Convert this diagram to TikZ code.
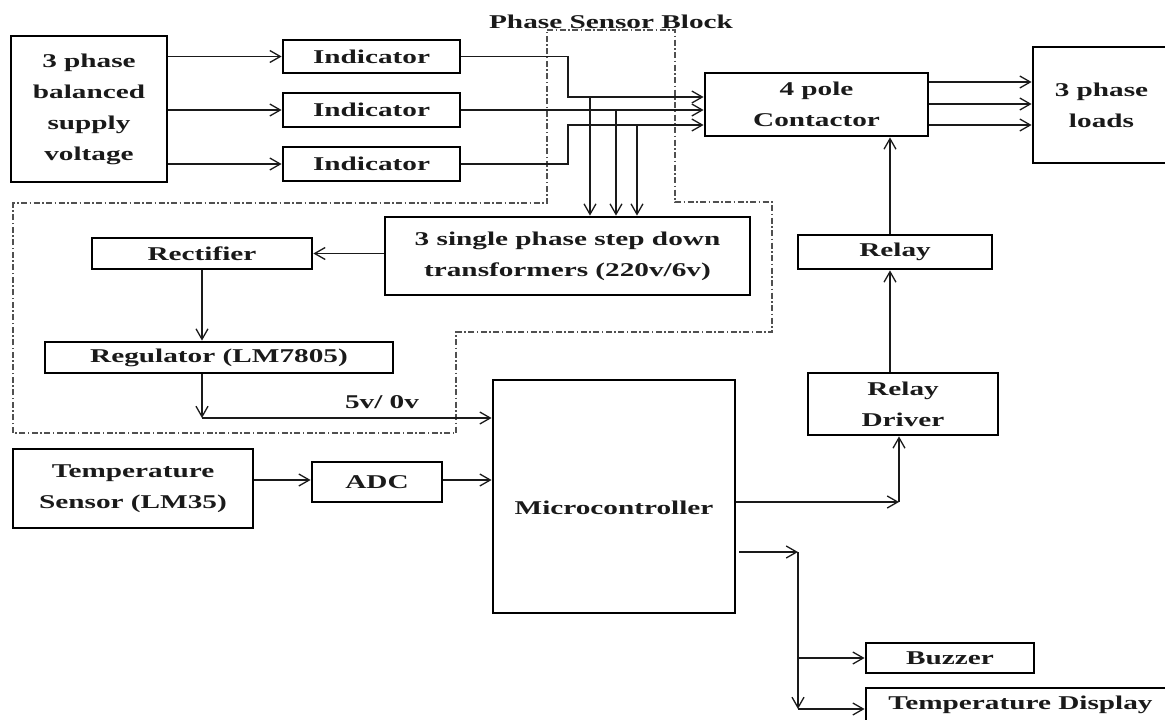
\documentclass[tikz,border=0pt]{standalone}
\usepackage{fontspec}
\setmainfont{Liberation Serif}
\usetikzlibrary{arrows.meta}
\newcommand\sx[1]{\scalebox{1.5}[1]{#1}}
\newcommand\blk[6]{\node[blk, minimum width={(#4)-(#2)}, minimum height={(#5)-(#3)}] (#1) at ({((#2)+(#4))/2},{((#3)+(#5))/2}) {#6};}
\definecolor{ink}{HTML}{1A1A1A}
\definecolor{dd}{HTML}{505050}
\begin{document}
\begin{tikzpicture}[x=1pt,y=-1pt,
  blk/.style={draw=black, line width=2.8pt, inner sep=0pt, align=center, text=ink,
    font=\fontsize{19.5}{31}\selectfont\bfseries},
  txt/.style={inner sep=0pt, text=ink, font=\fontsize{19.5}{31}\selectfont\bfseries},
  arr/.style={draw=ink, line width=1.4pt, -{Straight Barb[length=10.5pt,width=12pt,line width=1.3pt]}},
  psb/.style={draw=dd, line width=1.8pt, dash pattern=on 6pt off 2.5pt on 1.5pt off 2.5pt}]
\useasboundingbox (0,0) rectangle (1165,720);
\clip (0,0) rectangle (1165,720);
\fill[white] (0,0) rectangle (1165,720);

% phase sensor block outline
\draw[psb] (547,30) -- (675,30) -- (675,202) -- (772,202) -- (772,332) -- (456,332) -- (456,433) -- (13,433) -- (13,203) -- (547,203) -- cycle;
\node[txt] (psbl) at (611,22) {\sx{Phase Sensor Block}};

% blocks
\blk{sup}{11}{36}{167}{182}{\sx{3 phase}\\\sx{balanced}\\\sx{supply}\\\sx{voltage}}
\blk{ind1}{283}{40}{460}{73}{\sx{Indicator}}
\blk{ind2}{283}{93}{460}{127}{\sx{Indicator}}
\blk{ind3}{283}{147}{460}{181}{\sx{Indicator}}
\blk{ctr}{705}{73}{928}{136}{\sx{4 pole}\\\sx{Contactor}}
\blk{lds}{1033}{47}{1170}{163}{\sx{3 phase}\\\sx{loads}}
\blk{xfm}{385}{217}{750}{295}{\sx{3 single phase step down}\\\sx{transformers (220v/6v)}}
\blk{rec}{92}{238}{312}{269}{\sx{Rectifier}}
\blk{reg}{45}{342}{393}{373}{\sx{Regulator (LM7805)}}
\blk{mcu}{493}{380}{735}{613}{}
\node[txt] (mcut) at (614,508) {\sx{Microcontroller}};
\blk{tmp}{13}{449}{253}{528}{\sx{Temperature}\\\sx{Sensor (LM35)}}
\blk{adc}{312}{462}{442}{502}{\sx{ADC}}
\blk{rly}{798}{235}{992}{269}{\sx{Relay}}
\blk{drv}{808}{373}{998}{435}{\sx{Relay}\\\sx{Driver}}
\blk{buz}{866}{643}{1034}{673}{\sx{Buzzer}}
\blk{dsp}{866}{688}{1175}{722}{\sx{Temperature Display}}

% supply -> indicators
\draw[arr] (sup.east |- ind1.west) -- (ind1.west);
\draw[arr] (sup.east |- ind2.west) -- (ind2.west);
\draw[arr] (sup.east |- ind3.west) -- (ind3.west);

% indicators -> contactor
\coordinate (j1) at (568,97);
\coordinate (j3) at (568,125);
\draw[arr] (ind1.east) -| (j1) -- (j1 -| ctr.west);
\draw[arr] (ind2.east) -- (ind2.east -| ctr.west);
\draw[arr] (ind3.east) -| (j3) -- (j3 -| ctr.west);

% drops to transformers
\coordinate (d1) at (590,97);
\coordinate (d2) at (616,110);
\coordinate (d3) at (637,125);
\draw[arr] (d1) -- (d1 |- xfm.north);
\draw[arr] (d2) -- (d2 |- xfm.north);
\draw[arr] (d3) -- (d3 |- xfm.north);

% contactor -> loads
\coordinate (o1) at (928,82);
\coordinate (o2) at (928,104);
\coordinate (o3) at (928,125);
\draw[arr] (o1 -| ctr.east) -- (o1 -| lds.west);
\draw[arr] (o2 -| ctr.east) -- (o2 -| lds.west);
\draw[arr] (o3 -| ctr.east) -- (o3 -| lds.west);

% relay chain
\coordinate (rx) at (890,0);
\draw[arr] (rx |- rly.north) -- (rx |- ctr.south);
\draw[arr] (rx |- drv.north) -- (rx |- rly.south);

% power supply chain
\draw[arr] (xfm.west |- rec.east) -- (rec.east);
\draw[arr] (rec.south) -- (rec.south |- reg.north);
\coordinate (c5) at (202,418);
\draw[arr] (reg.south -| c5) -- (c5);
\draw[arr] (c5) -- (c5 -| mcu.west);
\node[txt] (v5) at (382,402) {\sx{5v/ 0v}};

% temperature sensor
\coordinate (t1) at (0,480);
\draw[arr] (t1 -| tmp.east) -- (t1 -| adc.west);
\draw[arr] (t1 -| adc.east) -- (t1 -| mcu.west);

% microcontroller -> relay driver
\coordinate (m1) at (899,502);
\draw[arr] (m1 -| mcu.east) -- (m1);
\draw[arr] (m1) -- (m1 |- drv.south);

% microcontroller -> buzzer / display
\coordinate (b1) at (798,552);
\coordinate (b2) at (798,709);
\draw[arr] ([xshift=3pt]b1 -| mcu.east) -- (b1);
\draw[arr] (b1) -- (b2);
\draw[arr] (b1 |- buz.west) -- (buz.west);
\draw[arr] (b2) -- (b2 -| dsp.west);
\end{tikzpicture}
\end{document}
